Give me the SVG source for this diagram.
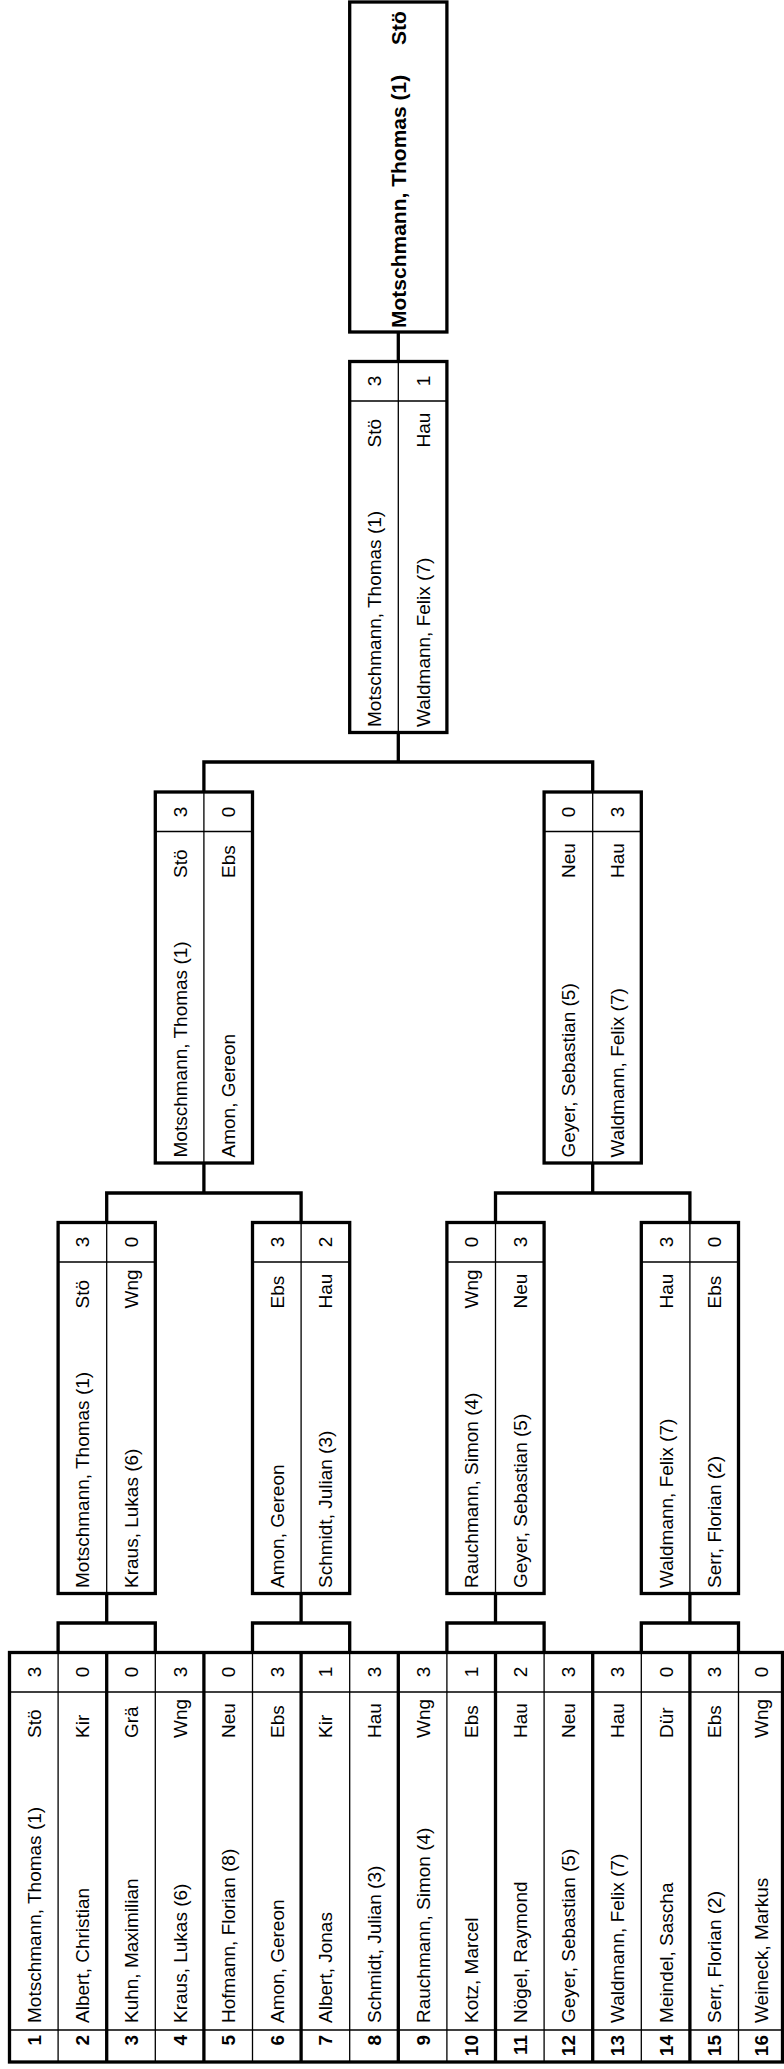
<svg xmlns="http://www.w3.org/2000/svg" width="784" height="2069" viewBox="0 0 784 2069">
<style>
text{font-family:"Liberation Sans",Arial,Helvetica,sans-serif;font-size:19px;fill:#000}
.b{font-weight:bold}
.m{text-anchor:middle}
.e{text-anchor:end}
.fin{font-size:21px;font-weight:bold}
.box{fill:#fff;stroke:#000;stroke-width:3.3}
.thin{stroke:#000;stroke-width:1.3;fill:none}
.thick{stroke:#000;stroke-width:3.3;fill:none}
.con{stroke:#000;stroke-width:3.3;fill:none;stroke-linejoin:miter}
</style>
<rect width="784" height="2069" fill="#fff"/>

<g id="connectors">
<path class="con" d="M398.3 332V361.5"/>
<path class="con" d="M398.3 732.5V762M203.9 792V762H592.7V792"/>
<path class="con" d="M203.9 1163V1193M106.7 1222.5V1193H301.1V1222.5"/>
<path class="con" d="M592.7 1163V1193M495.5 1222.5V1193H689.9V1222.5"/>
<path class="con" d="M106.7 1593.5V1623M58.1 1652.5V1623H155.3V1652.5"/>
<path class="con" d="M301.1 1593.5V1623M252.5 1652.5V1623H349.7V1652.5"/>
<path class="con" d="M495.5 1593.5V1623M446.9 1652.5V1623H544.1V1652.5"/>
<path class="con" d="M689.9 1593.5V1623M641.3 1652.5V1623H738.5V1652.5"/>
</g>

<g id="final">
<rect class="box" x="349.7" y="2" width="97.2" height="330"/>
<text class="fin" transform="translate(405.8 328) rotate(-90)">Motschmann, Thomas (1)</text>
<text class="fin" transform="translate(405.8 45) rotate(-90)">Stö</text>
</g>

<g id="r4">
<rect class="box" x="349.7" y="361.5" width="97.2" height="371"/>
<path class="thin" d="M398.3 361.5V732.5M349.7 401H446.9"/>
<text transform="translate(381 727) rotate(-90)">Motschmann, Thomas (1)</text>
<text transform="translate(381 447.5) rotate(-90)">Stö</text>
<text class="m" transform="translate(381 381) rotate(-90)">3</text>
<text transform="translate(429.6 727) rotate(-90)">Waldmann, Felix (7)</text>
<text transform="translate(429.6 447.5) rotate(-90)">Hau</text>
<text class="m" transform="translate(429.6 381) rotate(-90)">1</text>
</g>

<g id="r3-1">
<rect class="box" x="155.3" y="792" width="97.2" height="371"/>
<path class="thin" d="M203.9 792V1163M155.3 831.5H252.5"/>
<text transform="translate(186.6 1157.5) rotate(-90)">Motschmann, Thomas (1)</text>
<text transform="translate(186.6 878) rotate(-90)">Stö</text>
<text class="m" transform="translate(186.6 812) rotate(-90)">3</text>
<text transform="translate(235.2 1157.5) rotate(-90)">Amon, Gereon</text>
<text transform="translate(235.2 878) rotate(-90)">Ebs</text>
<text class="m" transform="translate(235.2 812) rotate(-90)">0</text>
</g>

<g id="r3-2">
<rect class="box" x="544.1" y="792" width="97.2" height="371"/>
<path class="thin" d="M592.7 792V1163M544.1 831.5H641.3"/>
<text transform="translate(575.4 1157.5) rotate(-90)">Geyer, Sebastian (5)</text>
<text transform="translate(575.4 878) rotate(-90)">Neu</text>
<text class="m" transform="translate(575.4 812) rotate(-90)">0</text>
<text transform="translate(624 1157.5) rotate(-90)">Waldmann, Felix (7)</text>
<text transform="translate(624 878) rotate(-90)">Hau</text>
<text class="m" transform="translate(624 812) rotate(-90)">3</text>
</g>

<g id="r2-1">
<rect class="box" x="58.1" y="1222.5" width="97.2" height="371"/>
<path class="thin" d="M106.7 1222.5V1593.5M58.1 1262H155.3"/>
<text transform="translate(89.4 1588) rotate(-90)">Motschmann, Thomas (1)</text>
<text transform="translate(89.4 1308.5) rotate(-90)">Stö</text>
<text class="m" transform="translate(89.4 1242) rotate(-90)">3</text>
<text transform="translate(138 1588) rotate(-90)">Kraus, Lukas (6)</text>
<text transform="translate(138 1308.5) rotate(-90)">Wng</text>
<text class="m" transform="translate(138 1242) rotate(-90)">0</text>
</g>

<g id="r2-2">
<rect class="box" x="252.5" y="1222.5" width="97.2" height="371"/>
<path class="thin" d="M301.1 1222.5V1593.5M252.5 1262H349.7"/>
<text transform="translate(283.8 1588) rotate(-90)">Amon, Gereon</text>
<text transform="translate(283.8 1308.5) rotate(-90)">Ebs</text>
<text class="m" transform="translate(283.8 1242) rotate(-90)">3</text>
<text transform="translate(332.4 1588) rotate(-90)">Schmidt, Julian (3)</text>
<text transform="translate(332.4 1308.5) rotate(-90)">Hau</text>
<text class="m" transform="translate(332.4 1242) rotate(-90)">2</text>
</g>

<g id="r2-3">
<rect class="box" x="446.9" y="1222.5" width="97.2" height="371"/>
<path class="thin" d="M495.5 1222.5V1593.5M446.9 1262H544.1"/>
<text transform="translate(478.2 1588) rotate(-90)">Rauchmann, Simon (4)</text>
<text transform="translate(478.2 1308.5) rotate(-90)">Wng</text>
<text class="m" transform="translate(478.2 1242) rotate(-90)">0</text>
<text transform="translate(526.8 1588) rotate(-90)">Geyer, Sebastian (5)</text>
<text transform="translate(526.8 1308.5) rotate(-90)">Neu</text>
<text class="m" transform="translate(526.8 1242) rotate(-90)">3</text>
</g>

<g id="r2-4">
<rect class="box" x="641.3" y="1222.5" width="97.2" height="371"/>
<path class="thin" d="M689.9 1222.5V1593.5M641.3 1262H738.5"/>
<text transform="translate(672.6 1588) rotate(-90)">Waldmann, Felix (7)</text>
<text transform="translate(672.6 1308.5) rotate(-90)">Hau</text>
<text class="m" transform="translate(672.6 1242) rotate(-90)">3</text>
<text transform="translate(721.2 1588) rotate(-90)">Serr, Florian (2)</text>
<text transform="translate(721.2 1308.5) rotate(-90)">Ebs</text>
<text class="m" transform="translate(721.2 1242) rotate(-90)">0</text>
</g>

<g id="draw-table">
<rect x="9.5" y="1652.5" width="773" height="409.5" fill="#fff" stroke="none"/>
<path class="thin" d="M9.5 1692H782.5M9.5 2030H782.5M58.1 1652.5V2062M155.3 1652.5V2062M252.5 1652.5V2062M349.7 1652.5V2062M446.9 1652.5V2062M544.1 1652.5V2062M641.3 1652.5V2062M738.5 1652.5V2062"/>
<path class="thick" d="M106.7 1652.5V2062M203.9 1652.5V2062M301.1 1652.5V2062M398.3 1652.5V2062M495.5 1652.5V2062M592.7 1652.5V2062M689.9 1652.5V2062"/>
<rect class="thick" x="9.5" y="1652.5" width="773" height="409.5"/>
</g>

<g id="seed-1"><text class="b e" transform="translate(40.8 2035) rotate(-90)">1</text><text transform="translate(40.8 2023) rotate(-90)">Motschmann, Thomas (1)</text><text transform="translate(40.8 1738) rotate(-90)">Stö</text><text class="m" transform="translate(40.8 1672) rotate(-90)">3</text></g>
<g id="seed-2"><text class="b e" transform="translate(89.4 2035) rotate(-90)">2</text><text transform="translate(89.4 2023) rotate(-90)">Albert, Christian</text><text transform="translate(89.4 1738) rotate(-90)">Kir</text><text class="m" transform="translate(89.4 1672) rotate(-90)">0</text></g>
<g id="seed-3"><text class="b e" transform="translate(138 2035) rotate(-90)">3</text><text transform="translate(138 2023) rotate(-90)">Kuhn, Maximilian</text><text transform="translate(138 1738) rotate(-90)">Grä</text><text class="m" transform="translate(138 1672) rotate(-90)">0</text></g>
<g id="seed-4"><text class="b e" transform="translate(186.6 2035) rotate(-90)">4</text><text transform="translate(186.6 2023) rotate(-90)">Kraus, Lukas (6)</text><text transform="translate(186.6 1738) rotate(-90)">Wng</text><text class="m" transform="translate(186.6 1672) rotate(-90)">3</text></g>
<g id="seed-5"><text class="b e" transform="translate(235.2 2035) rotate(-90)">5</text><text transform="translate(235.2 2023) rotate(-90)">Hofmann, Florian (8)</text><text transform="translate(235.2 1738) rotate(-90)">Neu</text><text class="m" transform="translate(235.2 1672) rotate(-90)">0</text></g>
<g id="seed-6"><text class="b e" transform="translate(283.8 2035) rotate(-90)">6</text><text transform="translate(283.8 2023) rotate(-90)">Amon, Gereon</text><text transform="translate(283.8 1738) rotate(-90)">Ebs</text><text class="m" transform="translate(283.8 1672) rotate(-90)">3</text></g>
<g id="seed-7"><text class="b e" transform="translate(332.4 2035) rotate(-90)">7</text><text transform="translate(332.4 2023) rotate(-90)">Albert, Jonas</text><text transform="translate(332.4 1738) rotate(-90)">Kir</text><text class="m" transform="translate(332.4 1672) rotate(-90)">1</text></g>
<g id="seed-8"><text class="b e" transform="translate(381 2035) rotate(-90)">8</text><text transform="translate(381 2023) rotate(-90)">Schmidt, Julian (3)</text><text transform="translate(381 1738) rotate(-90)">Hau</text><text class="m" transform="translate(381 1672) rotate(-90)">3</text></g>
<g id="seed-9"><text class="b e" transform="translate(429.6 2035) rotate(-90)">9</text><text transform="translate(429.6 2023) rotate(-90)">Rauchmann, Simon (4)</text><text transform="translate(429.6 1738) rotate(-90)">Wng</text><text class="m" transform="translate(429.6 1672) rotate(-90)">3</text></g>
<g id="seed-10"><text class="b e" transform="translate(478.2 2035) rotate(-90)">10</text><text transform="translate(478.2 2023) rotate(-90)">Kotz, Marcel</text><text transform="translate(478.2 1738) rotate(-90)">Ebs</text><text class="m" transform="translate(478.2 1672) rotate(-90)">1</text></g>
<g id="seed-11"><text class="b e" transform="translate(526.8 2035) rotate(-90)">11</text><text transform="translate(526.8 2023) rotate(-90)">Nögel, Raymond</text><text transform="translate(526.8 1738) rotate(-90)">Hau</text><text class="m" transform="translate(526.8 1672) rotate(-90)">2</text></g>
<g id="seed-12"><text class="b e" transform="translate(575.4 2035) rotate(-90)">12</text><text transform="translate(575.4 2023) rotate(-90)">Geyer, Sebastian (5)</text><text transform="translate(575.4 1738) rotate(-90)">Neu</text><text class="m" transform="translate(575.4 1672) rotate(-90)">3</text></g>
<g id="seed-13"><text class="b e" transform="translate(624 2035) rotate(-90)">13</text><text transform="translate(624 2023) rotate(-90)">Waldmann, Felix (7)</text><text transform="translate(624 1738) rotate(-90)">Hau</text><text class="m" transform="translate(624 1672) rotate(-90)">3</text></g>
<g id="seed-14"><text class="b e" transform="translate(672.6 2035) rotate(-90)">14</text><text transform="translate(672.6 2023) rotate(-90)">Meindel, Sascha</text><text transform="translate(672.6 1738) rotate(-90)">Dür</text><text class="m" transform="translate(672.6 1672) rotate(-90)">0</text></g>
<g id="seed-15"><text class="b e" transform="translate(721.2 2035) rotate(-90)">15</text><text transform="translate(721.2 2023) rotate(-90)">Serr, Florian (2)</text><text transform="translate(721.2 1738) rotate(-90)">Ebs</text><text class="m" transform="translate(721.2 1672) rotate(-90)">3</text></g>
<g id="seed-16"><text class="b e" transform="translate(767.5 2035) rotate(-90)">16</text><text transform="translate(767.5 2023) rotate(-90)">Weineck, Markus</text><text transform="translate(767.5 1738) rotate(-90)">Wng</text><text class="m" transform="translate(767.5 1672) rotate(-90)">0</text></g>
</svg>
